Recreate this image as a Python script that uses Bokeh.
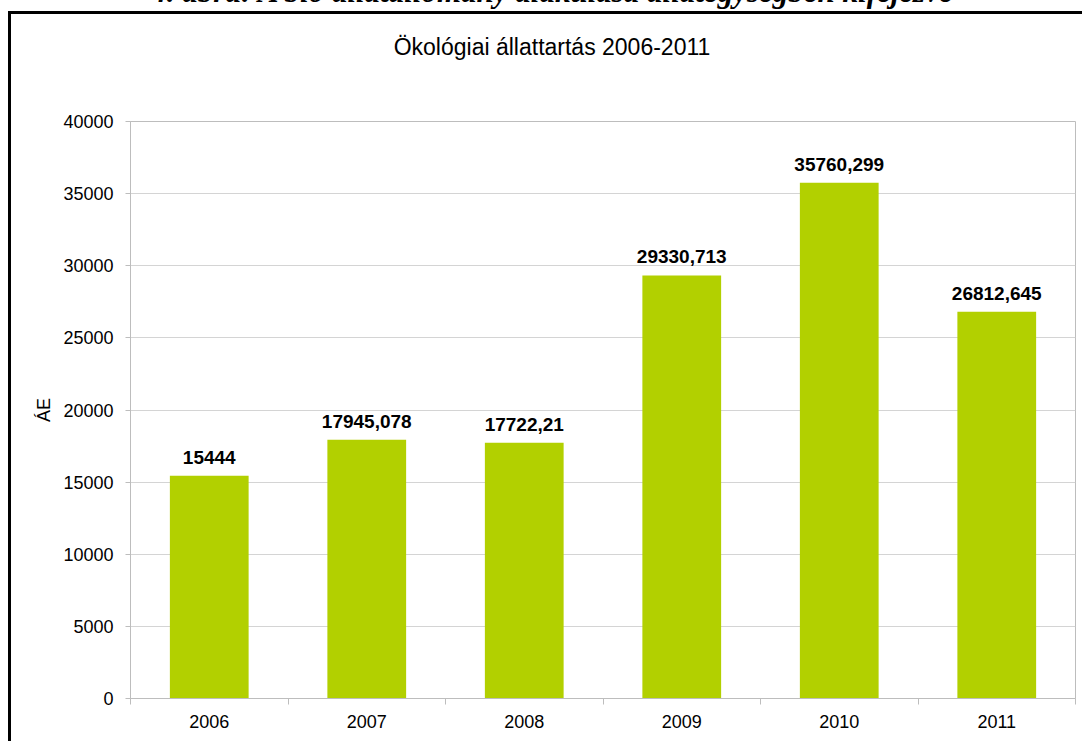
from bokeh.plotting import figure
from bokeh.models import (ColumnDataSource, Range1d, FixedTicker, LabelSet,
                          Div, BasicTickFormatter)
from bokeh.layouts import column
from bokeh.core.properties import value
from bokeh.embed import file_html
from bokeh.resources import INLINE

caption = "4. ábra: A bio állatállomány alakulása állategységben kifejezve"
title_text = "Ökológiai állattartás 2006-2011"
y_label = "ÁE"
years = ["2006", "2007", "2008", "2009", "2010", "2011"]
values = [15444, 17945.078, 17722.21, 29330.713, 35760.299, 26812.645]
value_labels = ["15444", "17945,078", "17722,21", "29330,713", "35760,299", "26812,645"]
y_ticks = [0, 5000, 10000, 15000, 20000, 25000, 30000, 35000, 40000]

BAR = "#B2D000"
GRID = "#d4d4d4"
AXIS = "#bdbdbd"
FONT = "Liberation Sans"
W = 1074
H = 730

xs = [i + 1 for i in range(len(years))]
bounds = [i + 0.5 for i in range(len(years) + 1)]
src = ColumnDataSource(dict(x=xs, top=values, lab=value_labels))

p = figure(width=W, height=H,
           x_range=Range1d(0.5, len(years) + 0.5),
           y_range=Range1d(y_ticks[0], y_ticks[-1]),
           output_backend="svg", toolbar_location=None,
           min_border_left=119, min_border_right=10,
           min_border_top=107, min_border_bottom=46,
           margin=0,
           styles={"border-left": "3px solid black", "border-top": "3px solid black"})
p.background_fill_color = "white"
p.border_fill_color = "white"
p.outline_line_color = AXIS

p.vbar(x="x", top="top", bottom=0, width=0.5, source=src,
       fill_color=BAR, line_color=None)

p.add_layout(LabelSet(x="x", y="top", text="lab", source=src,
                      text_align="center", text_baseline="alphabetic", y_offset=12,
                      text_font=value(FONT), text_font_size=value("19px"),
                      text_font_style=value("bold"), text_color="black"))

# x axis
xa = p.xaxis[0]
xa.ticker = FixedTicker(ticks=xs, minor_ticks=bounds)
xa.major_label_overrides = {x: y for x, y in zip(xs, years)}
xa.major_tick_out = 0
xa.major_tick_in = 0
xa.major_tick_line_color = None
xa.minor_tick_out = 6
xa.minor_tick_in = 0
xa.minor_tick_line_color = AXIS
xa.axis_line_color = AXIS
xa.major_label_standoff = 10
xa.major_label_text_font = FONT
xa.major_label_text_font_size = "18px"
xa.major_label_text_color = "black"

# y axis
ya = p.yaxis[0]
ya.ticker = FixedTicker(ticks=y_ticks)
ya.formatter = BasicTickFormatter(use_scientific=False)
ya.major_tick_out = 5
ya.major_tick_in = 0
ya.major_tick_line_color = AXIS
ya.minor_tick_line_color = None
ya.axis_line_color = AXIS
ya.major_label_standoff = 12
ya.major_label_text_font = FONT
ya.major_label_text_font_size = "18px"
ya.major_label_text_color = "black"
ya.axis_label = y_label
ya.axis_label_text_font = FONT
ya.axis_label_text_font_size = "18px"
ya.axis_label_text_font_style = "normal"
ya.axis_label_text_color = "black"
ya.axis_label_standoff = 6

p.xgrid.visible = False
p.ygrid.ticker = FixedTicker(ticks=y_ticks)
p.ygrid.grid_line_color = GRID

cap = Div(text=caption, width=1069, height=35, margin=0,
          styles={"font-family": "Liberation Serif", "font-size": "31px",
                  "font-weight": "bold", "font-style": "italic",
                  "line-height": "32px", "white-space": "nowrap",
                  "text-align": "center", "text-indent": "19px",
                  "color": "black", "overflow": "visible"})

# chart title overlaid on the top of the chart box
title_div = Div(text=title_text, width=W, height=67, margin=(-(H - 3), 0, 0, 0),
                styles={"font-family": FONT, "font-size": "23px",
                        "line-height": "67px", "white-space": "nowrap",
                        "text-align": "center", "text-indent": "14px",
                        "color": "black"})

layout = column(cap, p, title_div, styles={"margin-top": "-24px", "margin-left": "8px"})

open("out.html", "w").write(file_html(layout, INLINE))
